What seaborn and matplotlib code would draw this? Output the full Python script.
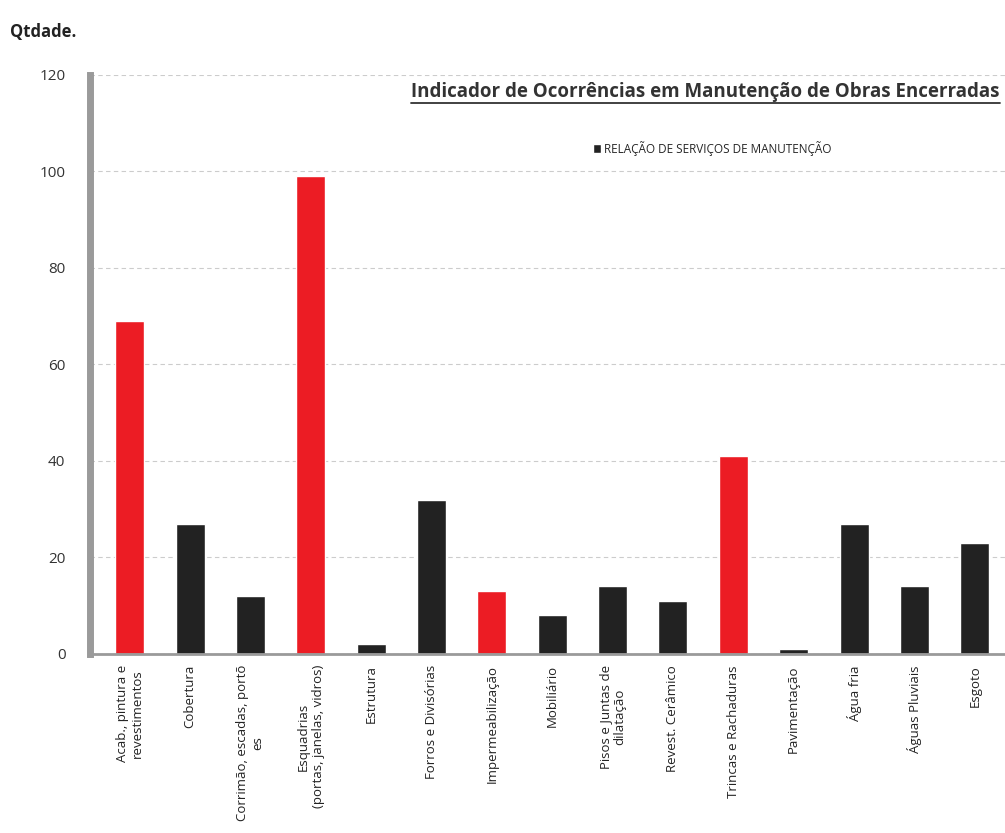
import matplotlib
matplotlib.use("Agg")
import matplotlib.pyplot as plt
import seaborn as sns
import pandas as pd
from matplotlib.patches import Patch

categories = [
    "Acab., pintura e\nrevestimentos", "Cobertura", "Corrimão, escadas, portõ\nes",
    "Esquadrias\n(portas, janelas, vidros)", "Estrutura", "Forros e Divisórias",
    "Impermeabilização", "Mobiliário", "Pisos e Juntas de\ndilatação", "Revest. Cerâmico",
    "Trincas e Rachaduras", "Pavimentação", "Água fria", "Águas Pluviais", "Esgoto",
]
values = [69, 27, 12, 99, 2, 32, 13, 8, 14, 11, 41, 1, 27, 14, 23]
groups = ["destaque", "normal", "normal", "destaque", "normal", "normal", "destaque",
          "normal", "normal", "normal", "destaque", "normal", "normal", "normal", "normal"]
yticks = [0, 20, 40, 60, 80, 100, 120]

title = "Indicador de Ocorrências em Manutenção de Obras Encerradas"
legend_label = "RELAÇÃO DE SERVIÇOS DE MANUTENÇÃO"
ylabel = "Qtdade."

sns.set_theme(style="white")
plt.rcParams["font.family"] = ["Open Sans", "DejaVu Sans"]

df = pd.DataFrame({"cat": categories, "val": values, "grp": groups})
palette = {"destaque": "#ec1c24", "normal": "#222222"}

fig = plt.figure(figsize=(10.05, 8.33), dpi=100)
ax = fig.add_axes([0.09, 0.215, 0.91, 0.695])

sns.barplot(data=df, x="cat", y="val", hue="grp", palette=palette, dodge=False,
            width=0.48, legend=False, ax=ax, saturation=1)

ax.set_ylim(0, 120)
ax.set_xlim(-0.65, len(categories) - 0.5)
ax.set_yticks(yticks)
ax.set_yticklabels([str(t) for t in yticks], fontsize=11, color="#333333")
ax.tick_params(axis="y", length=6, color="#999999", pad=12)
ax.tick_params(axis="x", length=0, pad=8)
ax.set_xticks(range(len(categories)))
ax.set_xticklabels(categories, rotation=90, fontsize=9.5, va="top", ha="center", color="#222222")
ax.set_xlabel("")
ax.set_ylabel("")
ax.yaxis.grid(True, color="#cccccc", linewidth=0.8, linestyle=(0, (4, 3)))
ax.set_axisbelow(True)

for s in ["top", "right"]:
    ax.spines[s].set_visible(False)
ax.spines["left"].set_color("#9a9a9a")
ax.spines["left"].set_linewidth(5)
ax.spines["bottom"].set_color("#9a9a9a")
ax.spines["bottom"].set_linewidth(2)

fig.text(0.01, 0.955, ylabel, fontsize=12, fontweight="bold", color="#222222")
t = fig.text(0.995, 0.878, title, fontsize=13.5, fontweight="bold", color="#333333",
             ha="right", va="bottom")
fig.canvas.draw()
bb = t.get_window_extent().transformed(fig.transFigure.inverted())
fig.add_artist(plt.Line2D([bb.x0, bb.x1], [bb.y0 - 0.002, bb.y0 - 0.002],
                          transform=fig.transFigure, color="#333333", linewidth=1.3))

handles = [Patch(facecolor="#222222", label=legend_label)]
ax.legend(handles=handles, loc="upper center", bbox_to_anchor=(0.68, 0.905),
          frameon=False, fontsize=8.5, handlelength=0.7, handleheight=0.7,
          handletextpad=0.3)

fig.savefig("out.png", dpi=100)
